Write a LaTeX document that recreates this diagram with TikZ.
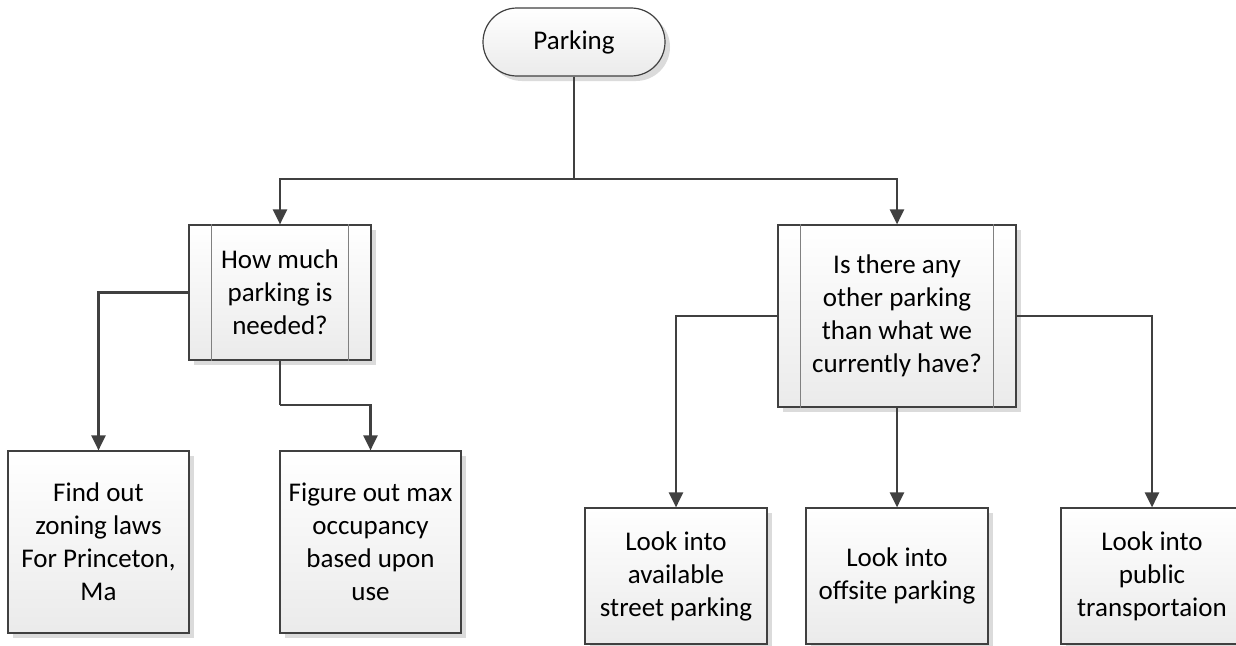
\documentclass[tikz,border=0pt]{standalone}
\usepackage{fontspec}
\setmainfont{Carlito}
\usetikzlibrary{arrows.meta,shadows}
\definecolor{edge}{HTML}{404040}
\definecolor{inner}{HTML}{808080}
\tikzset{
  box/.style={draw=edge, line width=1.2pt, shading=axis, top color=white, bottom color=black!8,
    drop shadow={shadow xshift=5pt, shadow yshift=-5pt, fill=black!14, opacity=1},
    align=center, inner sep=0pt, font=\fontsize{27}{33}\selectfont},
  conn/.style={draw=edge, line width=2.4pt},
  arr/.style={conn, -{Triangle[width=14pt,length=15pt]}},
  innerline/.style={draw=inner, line width=1.2pt}
}
\begin{document}
\begin{tikzpicture}[x=1pt,y=-1pt]
\useasboundingbox (0,0) rectangle (1236,645);
\node[box, rounded corners=34pt, minimum width=182pt, minimum height=68pt] (park) at (574,42) {Parking};
\node[box, minimum width=182pt, minimum height=135pt] (q1) at (280,292.5) {How much\\parking is\\needed?};
\node[box, minimum width=238pt, minimum height=182pt] (q2) at (897,316) {Is there any\\other parking\\than what we\\currently have?};
\node[box, minimum width=181pt, minimum height=182pt] (a) at (98.5,542) {Find out\\zoning laws\\For Princeton,\\Ma};
\node[box, minimum width=181pt, minimum height=182pt] (b) at (370.5,542) {Figure out max\\occupancy\\based upon\\use};
\node[box, minimum width=182pt, minimum height=136pt] (c) at (676,576) {Look into\\available\\street parking};
\node[box, minimum width=182pt, minimum height=136pt] (d) at (897,576) {Look into\\offsite parking};
\node[box, minimum width=182pt, minimum height=136pt] (e) at (1152,576) {Look into\\public\\transportaion};
% inner lines of predefined-process boxes
\draw[innerline] ([xshift=23pt]q1.north west) -- ([xshift=23pt]q1.south west);
\draw[innerline] ([xshift=-23pt]q1.north east) -- ([xshift=-23pt]q1.south east);
\draw[innerline] ([xshift=23pt]q2.north west) -- ([xshift=23pt]q2.south west);
\draw[innerline] ([xshift=-23pt]q2.north east) -- ([xshift=-23pt]q2.south east);
% connectors
\coordinate (j) at (574,179);
\coordinate (k) at (280,405);
\draw[conn] (park.south) -- (j);
\draw[arr] (j) -| (q1.north);
\draw[arr] (j) -| (q2.north);
\draw[arr] (q1.west) -| (a.north);
\draw[conn] (q1.south) -- (k);
\draw[arr] (k) -| (b.north);
\draw[arr] (q2.west) -| (c.north);
\draw[arr] (q2.south) -- (d.north);
\draw[arr] (q2.east) -| (e.north);
\end{tikzpicture}
\end{document}
